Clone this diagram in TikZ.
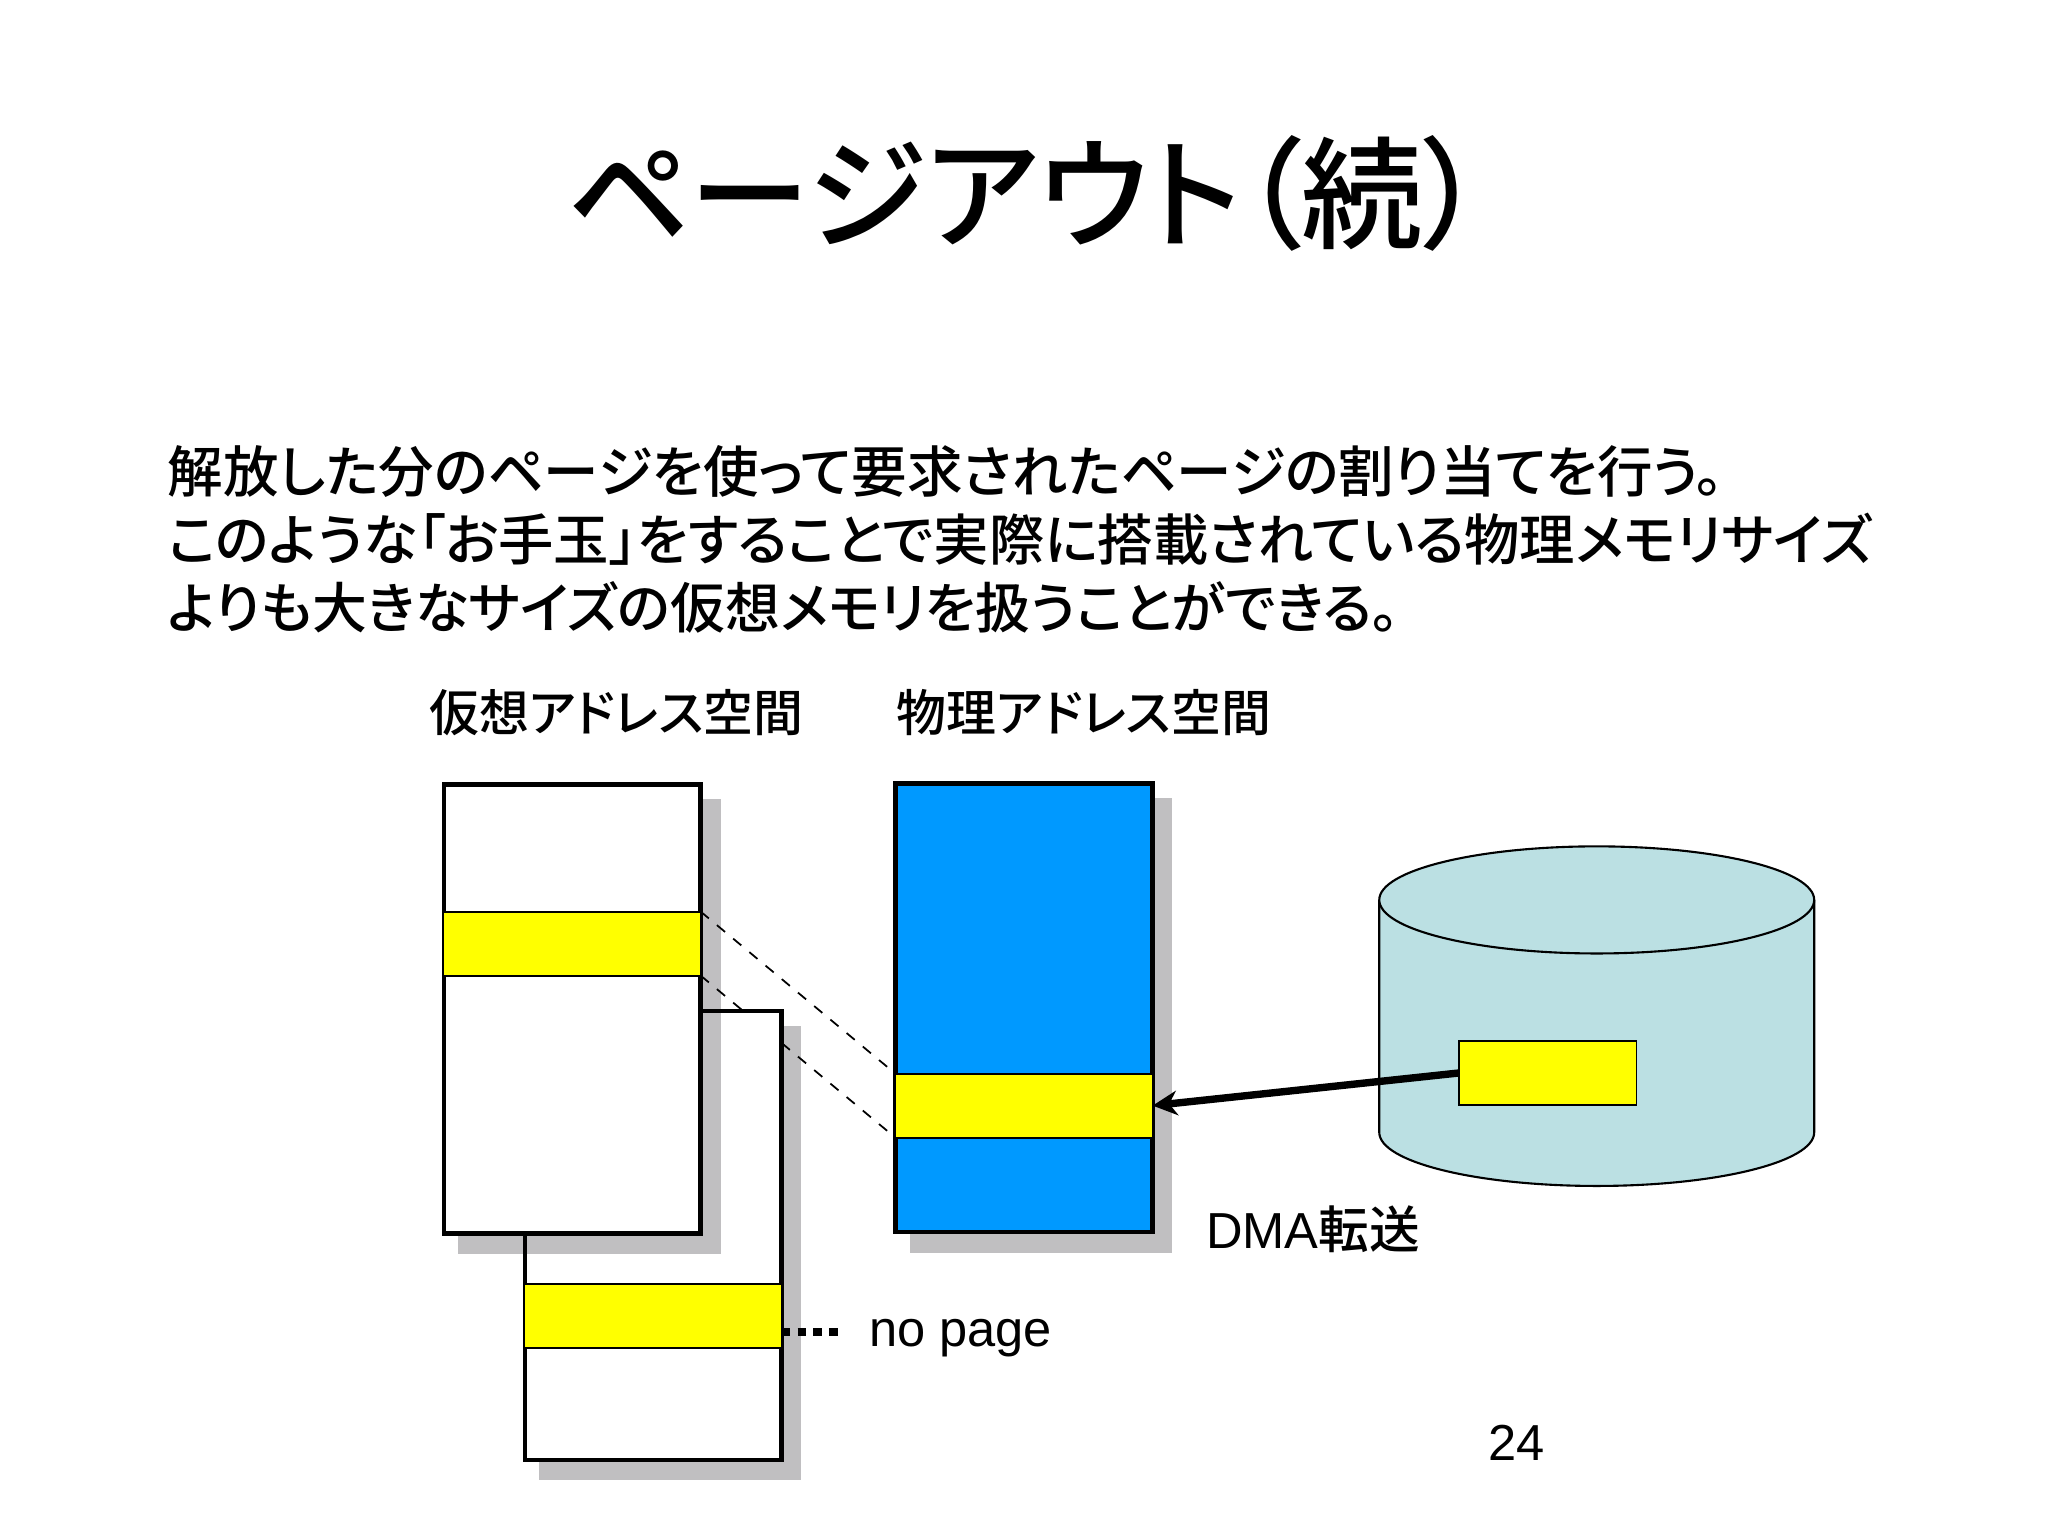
\documentclass[tikz,border=0pt]{standalone}
\usepackage{fontspec}
\usetikzlibrary{arrows.meta}
\setmainfont{Liberation Sans}
\newfontfamily\cjk[RawFeature=+palt]{Noto Sans CJK JP}
\newfontfamily\cjkmid[RawFeature=+palt]{Noto Sans CJK JP Medium}
\pgfdeclarelayer{shadows}
\pgfdeclarelayer{links}
\pgfsetlayers{shadows,links,main}
\definecolor{shadowgray}{HTML}{C0BFC1}
\definecolor{physblue}{HTML}{0099FF}
\definecolor{diskblue}{HTML}{BBE0E3}
\definecolor{baryellow}{RGB}{255,255,0}
\newcommand{\pxu}{0.01306cm}
\tikzset{
	spacebox/.style={draw,line width=1.25pt,fill=white,inner sep=0pt,outer sep=0pt,minimum width=196.5*\pxu,minimum height=343.5*\pxu},
	spaceshadow/.style={fill=shadowgray,inner sep=0pt,outer sep=0pt,minimum width=201*\pxu,minimum height=348*\pxu},
	pagebar/.style={draw,line width=0.5pt,fill=baryellow,inner sep=0pt,outer sep=0pt,minimum width=197*\pxu,minimum height=49*\pxu},
	bodyline/.style={anchor=base west,inner sep=0pt,font=\cjkmid\fontsize{15.8pt}{15.8pt}\selectfont},
	caption/.style={anchor=base west,inner sep=0pt,font=\cjkmid\fontsize{14.2pt}{14.2pt}\selectfont},
	plainlabel/.style={anchor=base west,inner sep=0pt,font=\fontsize{14.4pt}{14.4pt}\selectfont}
}
\begin{document}
\begin{tikzpicture}[x=\pxu,y=-\pxu]
	\useasboundingbox (0,0) rectangle (1568,1176);
	\node (title) at (785,148) [inner sep=0pt,font=\cjkmid\fontsize{34.5pt}{34.5pt}\selectfont] {ページアウト（続）};
	\node (lineA) at (128,377) [bodyline] {解放した分のページを使って要求されたページの割り当てを行う。};
	\node (lineB) at (128,429) [bodyline,font=\cjkmid\fontsize{15.75pt}{15.75pt}\selectfont] {このような「お手玉」をすることで実際に搭載されている物理メモリサイズ};
	\node (lineC) at (128,481) [bodyline,font=\cjkmid\fontsize{15.6pt}{15.6pt}\selectfont] {よりも大きなサイズの仮想メモリを扱うことができる。};
	\node (virtlabel) at (328,560) [caption] {仮想アドレス空間};
	\node (physlabel) at (686,560) [caption] {物理アドレス空間};

	% boxes, lower one first
	\begin{pgfonlayer}{shadows}
		\node (lowshadow) at (513,959.5) [spaceshadow] {};
		\node (physshadow) at (797,785) [spaceshadow] {};
	\end{pgfonlayer}
	\node (lowbox) at (500,946) [spacebox] {};
	\node (lowbar) at (500,1007.5) [pagebar] {};
	\begin{scope}[blend mode=multiply]
		\node (virtshadow) at (451.5,786) [spaceshadow] {};
	\end{scope}
	\node (virtbox) at (438,772.5) [spacebox] {};
	\node (virtbar) at (438,722.5) [pagebar] {};
	\node (physbox) at (784,771.5) [spacebox,fill=physblue] {};
	\node (physbar) at (784,846.5) [pagebar] {};

	\begin{pgfonlayer}{links}
		\draw[dashed,line width=0.5pt] (virtbar.north east) -- (physbar.north west);
		\draw[dashed,line width=0.5pt] (virtbar.south east) -- (physbar.south west);
	\end{pgfonlayer}

	% disk
	\draw[fill=diskblue,line width=0.6pt] (1056,689) -- (1056,867) arc[start angle=180,end angle=0,x radius=166.5,y radius=41] -- (1389,689);
	\draw[fill=diskblue,line width=0.6pt] (1222.5,689) ellipse [x radius=166.5,y radius=41];
	\node (diskbar) at (1185,821.5) [draw,line width=0.5pt,fill=baryellow,inner sep=0pt,outer sep=0pt,minimum width=136*\pxu,minimum height=49*\pxu] {};
	\draw[-{Stealth[length=7pt,width=7pt]},line width=2.1pt] (diskbar.west) -- (physbar.east);

	\coordinate (nopage) at (646,1020);
	\draw[line width=2.2pt,dash pattern=on 2.4pt off 2.1pt] (lowbar.east |- nopage) -- (nopage);
	\node (nopagelabel) at (665,1031) [plainlabel] {no page};
	\node (dmalabel) at (923,956) [plainlabel] {DMA{\cjkmid 転送}};
	\node (pagenum) at (1139,1118) [plainlabel] {24};
\end{tikzpicture}
\end{document}
